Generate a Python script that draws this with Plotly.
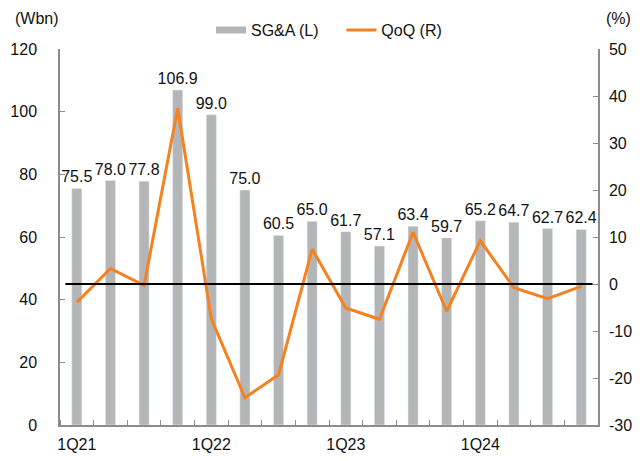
import plotly.graph_objects as go

# quarterly SG&A (Wbn, left axis) and QoQ change (%, right axis)
quarters = ["1Q21", "2Q21", "3Q21", "4Q21", "1Q22", "2Q22", "3Q22", "4Q22",
            "1Q23", "2Q23", "3Q23", "4Q23", "1Q24", "2Q24", "3Q24", "4Q24"]
sga = [75.5, 78.0, 77.8, 106.9, 99.0, 75.0, 60.5, 65.0,
       61.7, 57.1, 63.4, 59.7, 65.2, 64.7, 62.7, 62.4]
qoq = [-3.9, 3.3, -0.3, 37.4, -7.4, -24.2, -19.3, 7.4,
       -5.1, -7.5, 11.0, -5.8, 9.2, -0.8, -3.1, -0.5]
shown_ticks = ["1Q21", "1Q22", "1Q23", "1Q24"]
qoq_ticks = [-30, -20, -10, 0, 10, 20, 30, 40, 50]

FONT = "Liberation Sans, Arial"
FS = 16
GREY = "#b4b5b7"
ORANGE = "#f5821f"
AXIS = "#8c8c8c"

xs = list(range(len(quarters)))
tickvals = [quarters.index(q) for q in shown_ticks]

fig = go.Figure()

fig.add_trace(go.Bar(
    x=xs, y=sga, marker_color=GREY, width=0.3,
    texttemplate="%{y:.1f}", textposition="outside", constraintext="none",
    textfont=dict(size=FS, color="#111"), cliponaxis=False,
    showlegend=False, name="SG&A (L)"))

# legend entry drawn as a thick grey stroke like the original
fig.add_trace(go.Scatter(x=[None], y=[None], mode="lines",
                         line=dict(color=GREY, width=7), name="SG&A (L)    "))

fig.add_trace(go.Scatter(
    x=xs, y=qoq, mode="lines", yaxis="y2",
    line=dict(color=ORANGE, width=3), name="QoQ (R)"))

# page body adds an 8px offset, so the figure is 8px smaller than the window
fig.update_layout(
    width=632, height=453,
    margin=dict(l=52, r=42, t=41, b=36, autoexpand=False),
    plot_bgcolor="white", paper_bgcolor="white",
    font=dict(family=FONT, size=FS, color="#111"),
    bargap=0.7,
    legend=dict(orientation="h", x=0.5, xanchor="center", y=1.05, yanchor="middle",
                font=dict(size=FS), bgcolor="rgba(0,0,0,0)"),
    xaxis=dict(range=[-0.5, len(quarters) - 0.5], tickvals=tickvals,
               ticktext=shown_ticks, ticks="", showgrid=False, zeroline=False,
               showline=True, linecolor=AXIS, linewidth=1.5, automargin=False,
               ticklabelstandoff=4,
               minor=dict(ticks="inside", tick0=0.5, dtick=1, ticklen=5,
                          tickcolor=AXIS, showgrid=False)),
    yaxis=dict(range=[0, 120], dtick=20, ticks="inside", ticklen=5, tickcolor=AXIS,
               showgrid=False, zeroline=False, showline=True, linecolor=AXIS,
               linewidth=1.5, ticklabelstandoff=18, automargin=False),
    yaxis2=dict(range=[-30, 50], tickvals=qoq_ticks,
                ticktext=[str(v) for v in qoq_ticks], overlaying="y", side="right",
                ticks="inside", ticklen=5, tickcolor=AXIS, showgrid=False,
                zeroline=False, showline=True, linecolor=AXIS, linewidth=1.5,
                ticklabelstandoff=6, automargin=False),
)

# zero line for QoQ
fig.add_shape(type="line", xref="paper", yref="y2", x0=0.01, x1=0.99, y0=0, y1=0,
              line=dict(color="black", width=2))

fig.add_annotation(text="(Wbn)", xref="paper", yref="paper", x=-0.088, y=1.082,
                   xanchor="left", yanchor="middle", showarrow=False, font=dict(size=FS))
fig.add_annotation(text="(%)", xref="paper", yref="paper", x=1.011, y=1.082,
                   xanchor="left", yanchor="middle", showarrow=False, font=dict(size=FS))

fig.write_html("out.html")
